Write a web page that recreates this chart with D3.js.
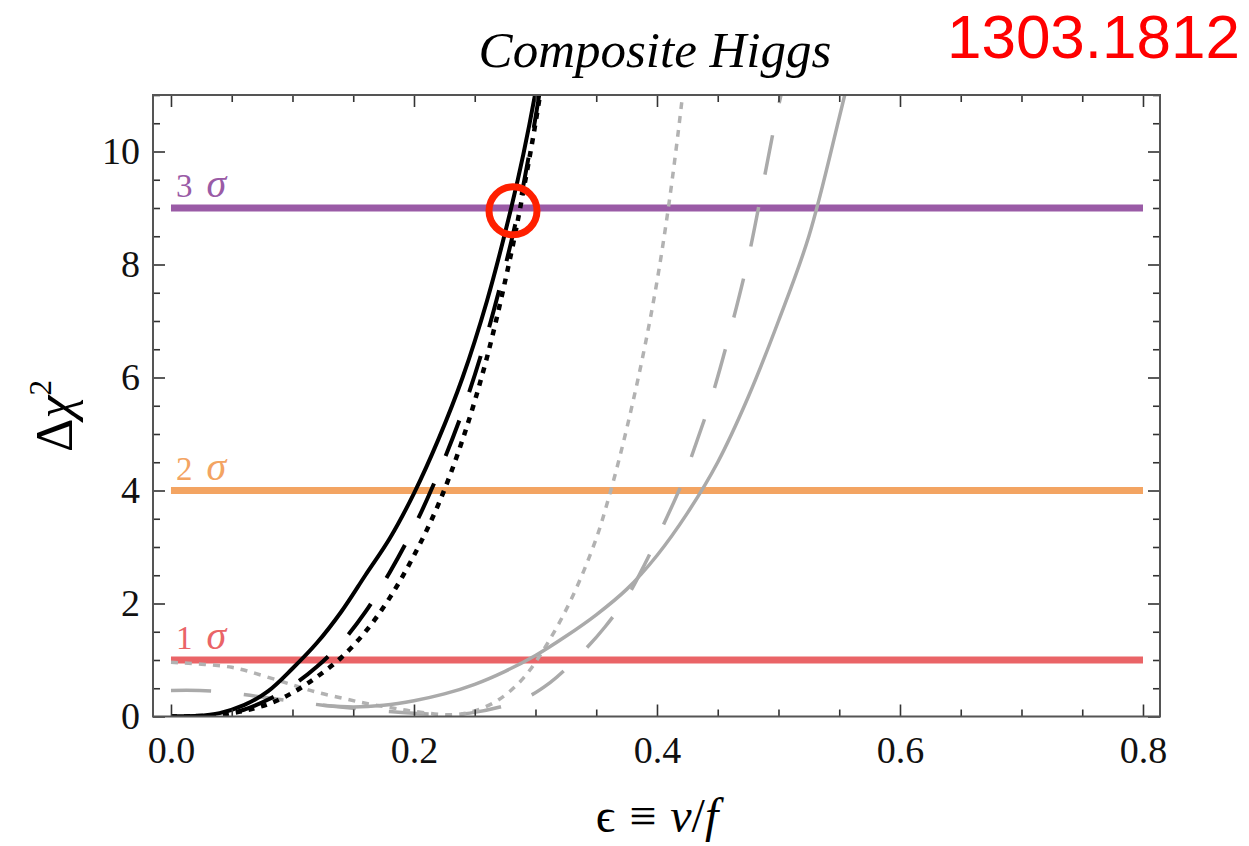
<!DOCTYPE html>
<html>
<head>
<meta charset="utf-8">
<script src="https://cdn.jsdelivr.net/npm/d3@7"></script>
<style>
  body { margin: 0; background: #fff; }
  svg { display: block; }
</style>
</head>
<body>
<svg width="1249" height="846"></svg>
<script>
// curves, [epsilon, delta chi^2]
const blackSolid = [[0,0],[0.02,0.01],[0.04,0.06],[0.06,0.2],[0.08,0.45],[0.1,0.85],[0.12,1.3],[0.14,1.85],[0.16,2.5],
  [0.18,3.15],[0.2,3.95],[0.22,4.9],[0.24,6.0],[0.26,7.35],[0.28,9.0],[0.29,9.95],[0.3,11.05],[0.305,11.7]];
const blackDashed = [[0,0],[0.02,0.005],[0.04,0.03],[0.06,0.12],[0.08,0.3],[0.1,0.55],[0.12,0.88],[0.14,1.3],[0.16,1.85],
  [0.18,2.55],[0.2,3.35],[0.22,4.3],[0.24,5.4],[0.26,6.75],[0.28,8.4],[0.29,9.4],[0.3,10.6],[0.306,11.4]];
const blackDotted = [[0,0],[0.02,0.005],[0.04,0.03],[0.06,0.1],[0.08,0.22],[0.1,0.42],[0.12,0.7],[0.14,1.04],[0.16,1.5],
  [0.18,2.1],[0.2,2.85],[0.22,3.75],[0.24,4.9],[0.26,6.35],[0.28,8.2],[0.29,9.3],[0.3,10.5],[0.308,11.6]];
const grayDotted = [[0,0.96],[0.05,0.87],[0.076,0.72],[0.1,0.56],[0.12,0.43],[0.142,0.32],[0.161,0.23],[0.18,0.16],[0.2,0.09],
  [0.232,0.03],[0.25,0.1],[0.27,0.3],[0.29,0.68],[0.31,1.3],[0.33,2.1],[0.35,3.15],[0.36,3.85],[0.37,4.65],[0.38,5.55],
  [0.39,6.55],[0.4,7.7],[0.41,9.1],[0.42,10.8],[0.425,11.8]];
const grayDashed = [[0,0.46],[0.035,0.45],[0.08,0.33],[0.125,0.2],[0.19,0.07],[0.22,0.04],[0.246,0.06],[0.287,0.28],
  [0.312,0.6],[0.337,1.1],[0.357,1.58],[0.376,2.14],[0.39,2.7],[0.405,3.38],[0.42,4.1],[0.43,4.7],[0.445,5.65],
  [0.46,6.8],[0.475,8.1],[0.488,9.5],[0.498,10.6],[0.503,11.1],[0.508,11.7]];
const graySolid = [[0.125,0.2],[0.15,0.17],[0.175,0.2],[0.2,0.28],[0.225,0.4],[0.25,0.57],[0.275,0.8],[0.3,1.08],
  [0.325,1.42],[0.35,1.8],[0.375,2.25],[0.4,2.85],[0.425,3.6],[0.45,4.5],[0.475,5.65],[0.5,7.0],[0.525,8.5],
  [0.55,10.6],[0.56,11.5]];

const sigmaLevels = [1, 4, 9];
const sigmaNames = ["1", "2", "3"];
const sigmaColors = ["#ea6467", "#f3a462", "#9a5ba6"];

const xMajor = [0, 0.2, 0.4, 0.6, 0.8];
const yMajor = [0, 2, 4, 6, 8, 10];
const marked = [0.2815, 8.95]; // red circle

const svg = d3.select("svg");
const pLeft = 153, pRight = 1160, pTop = 95, pBottom = 716.5;

const x = d3.scaleLinear().domain([-0.0148, 0.814]).range([pLeft, pRight]);
const y = d3.scaleLinear().domain([0, 11]).range([pBottom, pTop]);

const serif = "'Liberation Serif', 'Times New Roman', serif";

svg.append("defs").append("clipPath").attr("id", "plotclip")
  .append("rect").attr("x", pLeft).attr("y", pTop)
  .attr("width", pRight - pLeft).attr("height", pBottom - pTop);

// sigma lines
const plot = svg.append("g").attr("clip-path", "url(#plotclip)");
sigmaLevels.forEach((v, i) => {
  plot.append("line")
    .attr("x1", x(0)).attr("x2", x(0.8))
    .attr("y1", y(v)).attr("y2", y(v))
    .attr("stroke", sigmaColors[i]).attr("stroke-width", 7);
});

// curves
const line = d3.line().x(d => x(d[0])).y(d => y(d[1])).curve(d3.curveCatmullRom.alpha(0.5));
const styles = [
  {data: grayDashed, color: "#aaaaaa", width: 3.5, dash: "40,33"},
  {data: grayDotted, color: "#b2b2b2", width: 3.5, dash: "7,7"},
  {data: graySolid, color: "#aaaaaa", width: 3.5, dash: null},
  {data: blackDotted, color: "#000", width: 4.5, dash: "6,7"},
  {data: blackDashed, color: "#000", width: 4, dash: "38,30"},
  {data: blackSolid, color: "#000", width: 4, dash: null}
];
styles.forEach(s => {
  plot.append("path")
    .attr("d", line(s.data))
    .attr("fill", "none")
    .attr("stroke", s.color)
    .attr("stroke-width", s.width)
    .attr("stroke-dasharray", s.dash);
});

// sigma labels
sigmaLevels.forEach((v, i) => {
  const t = svg.append("text")
    .attr("x", x(0) + 5).attr("y", y(v) - 11)
    .attr("fill", sigmaColors[i])
    .attr("font-family", serif).attr("font-size", 33);
  t.append("tspan").text(sigmaNames[i]);
  t.append("tspan").attr("dx", 14).attr("font-style", "italic").attr("font-size", 40).text("σ");
});

// frame ticks, all inward
const xMinor = d3.range(0, 0.81, 0.05).filter(v => xMajor.every(m => Math.abs(m - v) > 1e-6));
const yMinor = d3.range(0, 11.01, 0.5).filter(v => yMajor.every(m => Math.abs(m - v) > 1e-6));

function axisGroup(axis, tx, ty) {
  const g = svg.append("g").attr("transform", `translate(${tx},${ty})`).call(axis);
  g.select(".domain").remove();
  g.selectAll("line").attr("stroke", "#333").attr("stroke-width", 1.6);
  g.selectAll("text").attr("font-family", serif).attr("font-size", 38).attr("fill", "#111");
  return g;
}

axisGroup(d3.axisBottom(x).tickValues(xMajor).tickSize(-12).tickPadding(20).tickFormat(d3.format(".1f")), 0, pBottom);
axisGroup(d3.axisBottom(x).tickValues(xMinor).tickSize(-7).tickFormat(""), 0, pBottom);
axisGroup(d3.axisTop(x).tickValues(xMajor).tickSize(-12).tickFormat(""), 0, pTop);
axisGroup(d3.axisTop(x).tickValues(xMinor).tickSize(-7).tickFormat(""), 0, pTop);
axisGroup(d3.axisLeft(y).tickValues(yMajor).tickSize(-12).tickPadding(13).tickFormat(d3.format("d")), pLeft, 0);
axisGroup(d3.axisLeft(y).tickValues(yMinor).tickSize(-7).tickFormat(""), pLeft, 0);
axisGroup(d3.axisRight(y).tickValues(yMajor).tickSize(-12).tickFormat(""), pRight, 0);
axisGroup(d3.axisRight(y).tickValues(yMinor).tickSize(-7).tickFormat(""), pRight, 0);

svg.append("rect")
  .attr("x", pLeft).attr("y", pTop)
  .attr("width", pRight - pLeft).attr("height", pBottom - pTop)
  .attr("fill", "none").attr("stroke", "#555").attr("stroke-width", 2);

// red circle marking the 3 sigma crossing
svg.append("circle")
  .attr("cx", x(marked[0])).attr("cy", y(marked[1]))
  .attr("r", 24)
  .attr("fill", "none").attr("stroke", "#ff2000").attr("stroke-width", 7);

// titles
svg.append("text")
  .attr("x", 655).attr("y", 67)
  .attr("text-anchor", "middle")
  .attr("font-family", serif).attr("font-style", "italic").attr("font-size", 51)
  .text("Composite Higgs");

svg.append("text")
  .attr("x", 1240).attr("y", 58)
  .attr("text-anchor", "end")
  .attr("font-family", "'Liberation Sans', Arial, sans-serif").attr("font-size", 62)
  .attr("fill", "#ff0000")
  .text("1303.1812");

const xl = svg.append("text")
  .attr("x", 657).attr("y", 832)
  .attr("text-anchor", "middle")
  .attr("font-family", serif).attr("font-size", 48);
xl.append("tspan").text("ϵ");
xl.append("tspan").attr("dx", 14).text("≡");
xl.append("tspan").attr("dx", 14).attr("font-style", "italic").text("v");
xl.append("tspan").text("/");
xl.append("tspan").attr("font-style", "italic").text("f");

const yl = svg.append("text")
  .attr("transform", "translate(72,416) rotate(-90)")
  .attr("text-anchor", "middle")
  .attr("font-family", serif).attr("font-size", 52);
yl.append("tspan").text("Δ");
yl.append("tspan").attr("font-style", "italic").text("χ");
yl.append("tspan").attr("font-size", 31).attr("dy", -21).text("2");
</script>
</body>
</html>
